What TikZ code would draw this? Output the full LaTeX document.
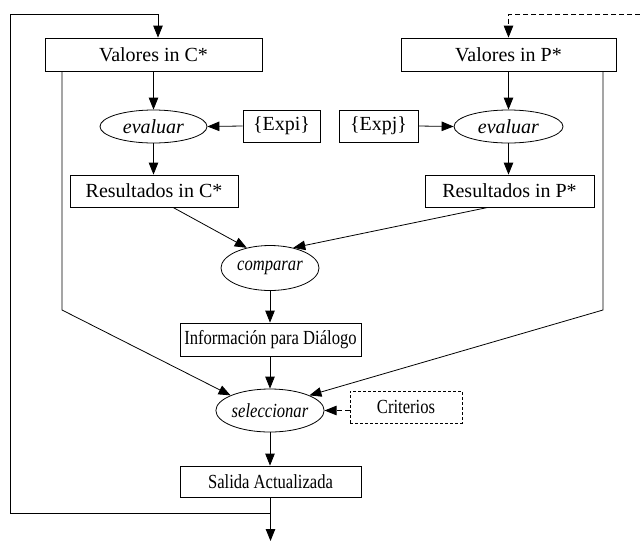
\documentclass[tikz,border=0pt]{standalone}
\usepackage{fontspec}
\usepackage{graphicx}
\setmainfont{Liberation Serif}
\usetikzlibrary{shapes.geometric,arrows.meta,calc}
% narrower setting for the lower part of the chart
\newcommand{\squeezetext}[1]{\scalebox{0.83}[1]{#1}}
\begin{document}
\begin{tikzpicture}[x=1pt,y=-1pt,
  every node/.style={font=\fontsize{20}{24}\selectfont, inner sep=0pt},
  box/.style={draw, rectangle, line width=0.8pt},
  oval/.style={draw, ellipse, line width=0.8pt},
  link/.style={line width=0.8pt, -{Triangle[length=12pt,width=9.5pt]}},
  dashlink/.style={link, dash pattern=on 5pt off 3pt}]
\useasboundingbox (0,0) rectangle (640,542);

% top row
\node[box, minimum width=217, minimum height=33] (vc) at (153.5,54.5) {Valores in C*};
\node[box, minimum width=215, minimum height=33] (vp) at (508.5,54.5) {Valores in P*};

% evaluation
\node[oval, minimum width=107, minimum height=33] (ec) at (153.5,126.5) {\textit{evaluar}};
\node[box, minimum width=77, minimum height=32] (expi) at (281.5,126) {\{Expi\}};
\node[box, minimum width=79, minimum height=32] (expj) at (378.5,126) {\{Expj\}};
\node[oval, minimum width=109, minimum height=33] (ep) at (508.5,126.5) {\textit{evaluar}};

% results
\node[box, minimum width=168, minimum height=32] (rc) at (154,191) {Resultados in C*};
\node[box, minimum width=169, minimum height=32] (rp) at (509.5,191) {Resultados in P*};

% comparison and selection
\node[oval, minimum width=98, minimum height=45] (cmp) at (270,268) {\squeezetext{\textit{comparar}}};
\node[box, minimum width=181, minimum height=33] (info) at (270.5,339.5) {\squeezetext{Información para Diálogo}};
\node[oval, minimum width=102, minimum height=43] (sel) at (270,410.5) {\squeezetext{\textit{seleccionar}}};
\node[box, dash pattern=on 3pt off 2pt, minimum width=112, minimum height=32] (crit) at (406,407) {\squeezetext{Criterios}};
\node[box, minimum width=181, minimum height=31] (out) at (270.5,481.5) {\squeezetext{Salida Actualizada}};

% routing points
\coordinate (lbend) at (62,310);
\coordinate (rbend) at (603,310);
\coordinate (join) at (270.5,513);
\coordinate (exit) at (270.5,541);
\coordinate (loopbl) at (10,513);
\coordinate (looptl) at (10,14);
\coordinate (looptr) at (158,14);
\coordinate (dashin) at (640,14);
\coordinate (dashtop) at (508.5,14);

% vertical flow
\draw[link] (vc.south -| ec.north) -- (ec.north);
\draw[link] (ec.south) -- (rc.north -| ec.south);
\draw[link] (vp.south -| ep.north) -- (ep.north);
\draw[link] (ep.south) -- (rp.north -| ep.south);
\draw[link] (expi.west) -- (ec.east);
\draw[link] (expj.east) -- (ep.west);

% results into comparison
\draw[link] ($(rc.south)+(19,0)$) -- (cmp.139);
\draw[link] ($(rp.south)+(-21.5,0)$) -- (cmp.41);
\draw[link] (cmp.south) -- (info.north -| cmp.south);
\draw[link] (info.south -| sel.north) -- (sel.north);
\draw[link] (sel.south) -- (out.north -| sel.south);

% raw values straight into selection
\draw[link] (vc.south -| lbend) -- (lbend) -- (sel.159);
\draw[link] (vp.south -| rbend) -- (rbend) -- (sel.21);

% criteria
\draw[link, dash pattern=on 5pt off 3pt] (crit.west |- sel.east) -- (sel.east);

% output and feedback loop
\draw[link] (out.south) -- (exit);
\draw[link] (join) -- (loopbl) -- (looptl) -- (looptr) -- (vc.north -| looptr);
\draw[dashlink] (dashin) -- (dashtop) -- (vp.north -| dashtop);
\end{tikzpicture}
\end{document}
